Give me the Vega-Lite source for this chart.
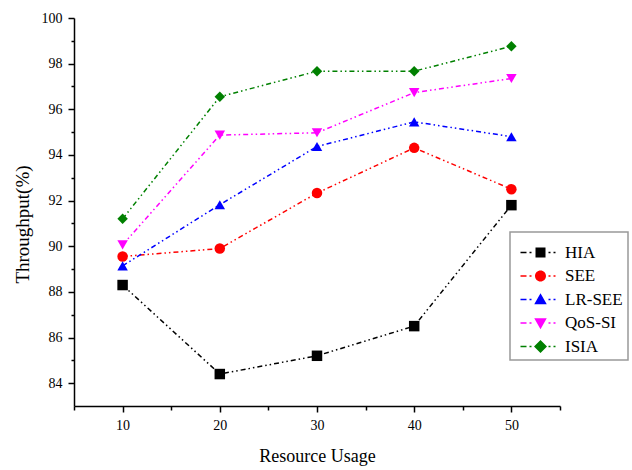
{
  "$schema": "https://vega.github.io/schema/vega-lite/v6.json",
  "width": 486,
  "height": 388,
  "autosize": {"type": "none"},
  "padding": {"left": 74, "top": 18, "right": 72, "bottom": 64},
  "background": "white",
  "config": {
    "view": {"stroke": null},
    "font": "Liberation Serif",
    "axis": {
      "grid": false,
      "domainColor": "#000",
      "domainWidth": 1.5,
      "tickColor": "#000",
      "tickWidth": 1.5,
      "labelFont": "Liberation Serif",
      "labelFontSize": 14,
      "labelColor": "#000",
      "titleFont": "Liberation Serif",
      "titleFontSize": 18,
      "titleFontWeight": "normal",
      "titleColor": "#000"
    },
    "legend": {"strokeWidth": 1.5, "labelFont": "Liberation Serif", "titleFont": "Liberation Serif"}
  },
  "data": {
    "values": [
      {"x": 10, "series": "HIA", "y": 88.3},
      {"x": 20, "series": "HIA", "y": 84.4},
      {"x": 30, "series": "HIA", "y": 85.2},
      {"x": 40, "series": "HIA", "y": 86.5},
      {"x": 50, "series": "HIA", "y": 91.8},
      {"x": 10, "series": "SEE", "y": 89.55},
      {"x": 20, "series": "SEE", "y": 89.9},
      {"x": 30, "series": "SEE", "y": 92.33},
      {"x": 40, "series": "SEE", "y": 94.31},
      {"x": 50, "series": "SEE", "y": 92.5},
      {"x": 10, "series": "LR-SEE", "y": 89.14},
      {"x": 20, "series": "LR-SEE", "y": 91.82},
      {"x": 30, "series": "LR-SEE", "y": 94.37},
      {"x": 40, "series": "LR-SEE", "y": 95.45},
      {"x": 50, "series": "LR-SEE", "y": 94.8},
      {"x": 10, "series": "QoS-SI", "y": 90.06},
      {"x": 20, "series": "QoS-SI", "y": 94.87},
      {"x": 30, "series": "QoS-SI", "y": 94.97},
      {"x": 40, "series": "QoS-SI", "y": 96.73},
      {"x": 50, "series": "QoS-SI", "y": 97.35},
      {"x": 10, "series": "ISIA", "y": 91.2},
      {"x": 20, "series": "ISIA", "y": 96.55},
      {"x": 30, "series": "ISIA", "y": 97.67},
      {"x": 40, "series": "ISIA", "y": 97.67},
      {"x": 50, "series": "ISIA", "y": 98.76}
    ]
  },
  "encoding": {
    "x": {
      "field": "x",
      "type": "quantitative",
      "scale": {"domain": [5, 55], "nice": false, "zero": false},
      "axis": {
        "title": "Resource Usage",
        "values": [5, 10, 15, 20, 25, 30, 35, 40, 45, 50, 55],
        "labelExpr": "datum.value % 10 === 0 ? datum.label : ''",
        "tickSize": {"condition": {"test": "datum.value % 10 === 0", "value": 6}, "value": 4},
        "labelPadding": 6,
        "titlePadding": 15
      }
    },
    "y": {
      "field": "y",
      "type": "quantitative",
      "scale": {"domain": [83, 100], "nice": false, "zero": false},
      "axis": {
        "title": "Throughput(%)",
        "titleFontSize": 19,
        "titleY": 206,
        "values": [84, 85, 86, 87, 88, 89, 90, 91, 92, 93, 94, 95, 96, 97, 98, 99, 100],
        "labelExpr": "datum.value % 2 === 0 ? datum.label : ''",
        "tickSize": {"condition": {"test": "datum.value % 2 === 0", "value": 6}, "value": 3},
        "labelPadding": 6,
        "titlePadding": 9
      }
    }
  },
  "layer": [
    {
      "mark": {"type": "line", "strokeWidth": 1.5, "strokeDash": [5, 3, 1.5, 3, 1.5, 3]},
      "encoding": {
        "color": {
          "field": "series",
          "type": "nominal",
          "scale": {"domain": ["HIA", "SEE", "LR-SEE", "QoS-SI", "ISIA"], "range": ["#000000", "#ff0000", "#0000ff", "#ff00ff", "#008000"]},
          "legend": null
        }
      }
    },
    {
      "mark": {"type": "point", "filled": true, "size": 110, "opacity": 1},
      "encoding": {
        "color": {
          "field": "series",
          "type": "nominal",
          "scale": {"domain": ["HIA", "SEE", "LR-SEE", "QoS-SI", "ISIA"], "range": ["#000000", "#ff0000", "#0000ff", "#ff00ff", "#008000"]},
          "legend": null
        },
        "shape": {
          "field": "series",
          "type": "nominal",
          "scale": {"domain": ["HIA", "SEE", "LR-SEE", "QoS-SI", "ISIA"], "range": ["square", "circle", "triangle-up", "triangle-down", "diamond"]},
          "legend": null
        }
      }
    },
    {
      "mark": {"type": "point", "filled": true, "size": 100, "opacity": 0},
      "encoding": {
        "color": {
          "field": "series",
          "type": "nominal",
          "scale": {"domain": ["HIA", "SEE", "LR-SEE", "QoS-SI", "ISIA"], "range": ["#000000", "#ff0000", "#0000ff", "#ff00ff", "#008000"]},
          "legend": {
            "title": " ",
            "titleFontSize": 4,
            "titlePadding": 3,
            "orient": "none",
            "legendX": 436,
            "legendY": 214,
            "direction": "vertical",
            "strokeColor": "#999999",
            "fillColor": "white",
            "padding": 5,
            "labelFont": "Liberation Serif",
            "labelFontSize": 17,
            "labelColor": "#000",
            "symbolSize": 100,
            "symbolOpacity": 1,
            "symbolStrokeWidth": 0,
            "symbolOffset": 17,
            "labelOffset": 16,
            "rowPadding": 5.5
          }
        },
        "shape": {
          "field": "series",
          "type": "nominal",
          "scale": {
            "domain": ["HIA", "SEE", "LR-SEE", "QoS-SI", "ISIA"],
            "range": [
              "M-4,-0.15H-2.8V0.15H-4Z M-2.2,-0.15H-1.8V0.15H-2.2Z M1.6,-0.15H2V0.15H1.6Z M2.6,-0.15H3V0.15H2.6Z M-1,-1H1V1H-1Z",
              "M-4,-0.15H-2.8V0.15H-4Z M-2.2,-0.15H-1.8V0.15H-2.2Z M1.6,-0.15H2V0.15H1.6Z M2.6,-0.15H3V0.15H2.6Z M-1.1,0A1.1,1.1,0,1,1,1.1,0A1.1,1.1,0,1,1,-1.1,0Z",
              "M-4,-0.15H-2.8V0.15H-4Z M-2.2,-0.15H-1.8V0.15H-2.2Z M1.6,-0.15H2V0.15H1.6Z M2.6,-0.15H3V0.15H2.6Z M0,-1.25L1.25,0.95L-1.25,0.95Z",
              "M-4,-0.15H-2.8V0.15H-4Z M-2.2,-0.15H-1.8V0.15H-2.2Z M1.6,-0.15H2V0.15H1.6Z M2.6,-0.15H3V0.15H2.6Z M0,1.25L1.25,-0.95L-1.25,-0.95Z",
              "M-4,-0.15H-2.8V0.15H-4Z M-2.2,-0.15H-1.8V0.15H-2.2Z M1.6,-0.15H2V0.15H1.6Z M2.6,-0.15H3V0.15H2.6Z M0,-1.3L1.3,0L0,1.3L-1.3,0Z"
            ]
          },
          "legend": {
            "title": " ",
            "titleFontSize": 4,
            "titlePadding": 3,
            "orient": "none",
            "legendX": 436,
            "legendY": 214,
            "direction": "vertical",
            "strokeColor": "#999999",
            "fillColor": "white",
            "padding": 5,
            "labelFont": "Liberation Serif",
            "labelFontSize": 17,
            "labelColor": "#000",
            "symbolSize": 100,
            "symbolOpacity": 1,
            "symbolStrokeWidth": 0,
            "symbolOffset": 17,
            "labelOffset": 16,
            "rowPadding": 5.5
          }
        }
      }
    }
  ],
  "resolve": {"scale": {"color": "independent", "shape": "independent"}}
}
